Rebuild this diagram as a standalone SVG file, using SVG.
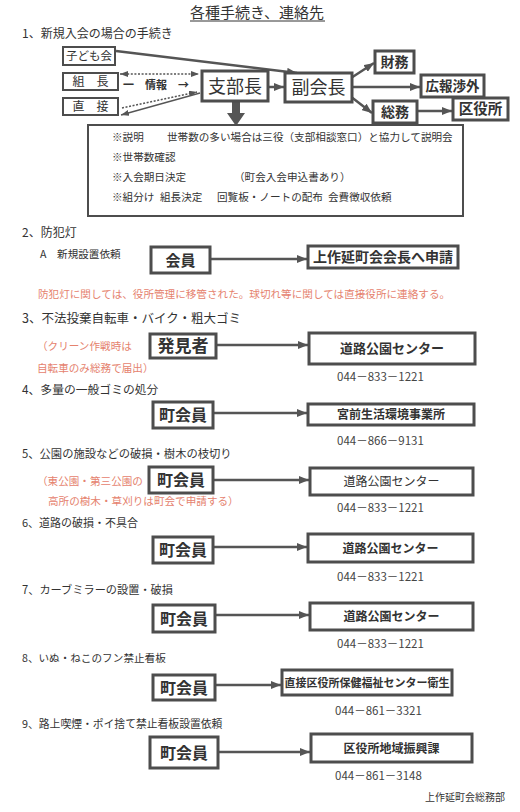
<svg xmlns="http://www.w3.org/2000/svg" width="520" height="812" viewBox="0 0 520 812">
<defs>
<style>
text{font-family:"Noto Sans CJK JP","Noto Sans",sans-serif;fill:#333}
.box{fill:#fff;stroke:#4d4d4d;stroke-width:3}
.tbox{fill:#fff;stroke:#4d4d4d;stroke-width:2}
.lb{text-anchor:middle;font-weight:700}
.ln{text-anchor:middle;font-weight:400}
.red{fill:#e5826e;font-size:10.6px}
.ph{font-size:11.5px;fill:#444}
.note{font-size:10.6px;fill:#333}
.c{stroke:#555;stroke-width:2.5;fill:none}
.d{stroke:#555;stroke-width:1.6;fill:none;stroke-dasharray:2 1.6}
.s{stroke:#555;stroke-width:1.3;fill:none}
</style>
<marker id="ah" markerUnits="userSpaceOnUse" markerWidth="10" markerHeight="8" refX="10" refY="4" orient="auto">
<path d="M0,0 L10,4 L0,8 z" fill="#555"/>
</marker>
<marker id="as" markerUnits="userSpaceOnUse" markerWidth="8" markerHeight="6" refX="8" refY="3" orient="auto-start-reverse">
<path d="M0,0 L8,3 L0,6 z" fill="#555"/>
</marker>
</defs>
<rect width="520" height="812" fill="#fff"/>

<g id="title">
<text x="257" y="18" font-size="15" text-anchor="middle">各種手続き、連絡先</text>
<line x1="190" y1="21" x2="325" y2="21" stroke="#333" stroke-width="1"/>
</g>

<g id="headings">
<text x="22" y="38" font-size="12">1、新規入会の場合の手続き</text>
<text x="22" y="237" font-size="12">2、防犯灯</text>
<text x="22" y="323" font-size="12.5">3、不法投棄自転車・バイク・粗大ゴミ</text>
<text x="22" y="394" font-size="11.8">4、多量の一般ゴミの処分</text>
<text x="22" y="458" font-size="11.3">5、公園の施設などの破損・樹木の枝切り</text>
<text x="22" y="527" font-size="11">6、道路の破損・不具合</text>
<text x="22" y="594" font-size="11.2">7、カーブミラーの設置・破損</text>
<text x="22" y="662" font-size="10.6">8、いぬ・ねこのフン禁止看板</text>
<text x="22" y="728" font-size="10.8">9、路上喫煙・ポイ捨て禁止看板設置依頼</text>
</g>

<g id="connectors">
<line class="c" x1="116" y1="51" x2="297" y2="73" stroke-width="2" marker-end="url(#ah)"/>
<line class="d" x1="120" y1="74" x2="199" y2="74" marker-start="url(#as)" marker-end="url(#as)"/>
<line class="d" x1="122" y1="108" x2="197" y2="92" marker-end="url(#as)"/>
<line class="s" x1="200" y1="93" x2="121" y2="115" marker-end="url(#as)"/>
<line class="c" x1="268" y1="87" x2="284" y2="87" marker-end="url(#ah)"/>
<path d="M232,101 L240,101 L240,113 L245,113 L236,126 L227,113 L232,113 z" fill="#555"/>
<line class="c" x1="351" y1="78" x2="374" y2="63" marker-end="url(#ah)"/>
<line class="c" x1="352" y1="87" x2="420" y2="87" marker-end="url(#ah)"/>
<line class="c" x1="350" y1="96" x2="372" y2="113" marker-end="url(#ah)"/>
<line class="c" x1="417" y1="111" x2="452" y2="111" marker-end="url(#ah)"/>
<line class="c" x1="210" y1="259" x2="307" y2="259" marker-end="url(#ah)"/>
<line class="c" x1="216" y1="345" x2="308" y2="345" marker-end="url(#ah)"/>
<line class="c" x1="213" y1="413" x2="307" y2="413" marker-end="url(#ah)"/>
<line class="c" x1="213" y1="480" x2="309" y2="480" marker-end="url(#ah)"/>
<line class="c" x1="213" y1="547" x2="307" y2="547" marker-end="url(#ah)"/>
<line class="c" x1="215" y1="615" x2="309" y2="615" marker-end="url(#ah)"/>
<line class="c" x1="215" y1="685" x2="281" y2="685" marker-end="url(#ah)"/>
<line class="c" x1="218" y1="752" x2="310" y2="752" marker-end="url(#ah)"/>
<text x="123" y="89" font-size="11" font-weight="700" fill="#444">一　情報　→</text>
</g>

<g id="kodomokai"><rect class="tbox" x="63" y="47" width="52" height="18"/><text class="ln" x="89" y="60" font-size="11.5">子ども会</text></g>
<g id="kumicho"><rect class="tbox" x="63" y="73" width="55" height="17"/><text class="ln" x="90.5" y="86" font-size="12">組　長</text></g>
<g id="chokusetsu"><rect class="tbox" x="63" y="98" width="55" height="17"/><text class="ln" x="90.5" y="111" font-size="12">直　接</text></g>
<g id="shibucho"><rect class="box" x="202" y="71" width="66" height="30"/><text class="ln" x="235" y="92.5" font-size="18">支部長</text></g>
<g id="fukukaicho"><rect class="box" x="285" y="73" width="67" height="29"/><text class="ln" x="318.5" y="94" font-size="18">副会長</text></g>
<g id="zaimu"><rect class="box" x="375" y="51" width="39" height="22"/><text class="lb" x="394.5" y="67" font-size="14">財務</text></g>
<g id="kohoshogai"><rect class="box" x="421" y="75" width="63" height="22"/><text class="lb" x="452.5" y="91" font-size="13.5">広報渉外</text></g>
<g id="somu"><rect class="box" x="373" y="101" width="44" height="22"/><text class="lb" x="395" y="117" font-size="14">総務</text></g>
<g id="kuyakusho"><rect class="box" x="453" y="98" width="55" height="22"/><text class="lb" x="480.5" y="114" font-size="14.5">区役所</text></g>

<g id="procedure">
<rect class="tbox" x="88" y="125" width="375" height="91"/>
<text class="note" x="112" y="141">※説明</text>
<text class="note" x="167" y="141">世帯数の多い場合は三役（支部相談窓口）と協力して説明会</text>
<text class="note" x="112" y="161">※世帯数確認</text>
<text class="note" x="112" y="181">※入会期日決定</text>
<text class="note" x="234" y="181">（町会入会申込書あり）</text>
<text class="note" x="112" y="201">※組分け</text>
<text class="note" x="160" y="201">組長決定</text>
<text class="note" x="217" y="201">回覧板・ノートの配布</text>
<text class="note" x="328" y="201">会費徴収依頼</text>
</g>

<g id="s2-label"><text x="40" y="258" font-size="10.6">A　新規設置依頼</text></g>
<g id="s2-kaiin"><rect class="box" x="151" y="247" width="59" height="26"/><text class="lb" x="180.5" y="265.5" font-size="15">会員</text></g>
<g id="s2-kaicho"><rect class="box" x="308" y="246" width="150" height="22"/><text class="lb" x="383" y="262" font-size="14">上作延町会会長へ申請</text></g>
<g id="s2-note"><text class="red" x="38" y="298" font-size="10.8">防犯灯に関しては、役所管理に移管された。球切れ等に関しては直接役所に連絡する。</text></g>

<g id="s3-note"><text class="red" x="37" y="350">（クリーン作戦時は</text><text class="red" x="37" y="372">自転車のみ総務で届出）</text></g>
<g id="s3-hakkensha"><rect class="box" x="150" y="334" width="66" height="24"/><text class="lb" x="183" y="352" font-size="17">発見者</text></g>
<g id="s3-center"><rect class="box" x="309" y="333" width="166" height="31"/><text class="lb" x="392" y="353" font-size="13">道路公園センター</text><text class="ph" x="337" y="381">044－833－1221</text></g>

<g id="s4-chokaiin"><rect class="box" x="153" y="402" width="60" height="26"/><text class="lb" x="183" y="421" font-size="16">町会員</text></g>
<g id="s4-center"><rect class="box" x="308" y="404" width="166" height="21"/><text class="lb" x="391" y="419" font-size="12">宮前生活環境事業所</text><text class="ph" x="337" y="445">044－866－9131</text></g>

<g id="s5-note"><text class="red" x="37" y="485">（東公園・第三公園の</text><text class="red" x="48" y="505">高所の樹木・草刈りは町会で申請する）</text></g>
<g id="s5-chokaiin"><rect class="box" x="149" y="467" width="64" height="26"/><text class="lb" x="181" y="486" font-size="16">町会員</text></g>
<g id="s5-center"><rect class="box" x="310" y="468" width="163" height="27"/><text class="ln" x="391.5" y="486" font-size="12" font-weight="500">道路公園センター</text><text class="ph" x="337" y="512">044－833－1221</text></g>

<g id="s6-chokaiin"><rect class="box" x="153" y="537" width="60" height="26"/><text class="lb" x="183" y="556" font-size="16">町会員</text></g>
<g id="s6-center"><rect class="box" x="308" y="534" width="165" height="28"/><text class="lb" x="390.5" y="552.5" font-size="12">道路公園センター</text><text class="ph" x="337" y="581">044－833－1221</text></g>

<g id="s7-chokaiin"><rect class="box" x="153" y="605" width="62" height="27"/><text class="lb" x="184" y="624.5" font-size="16">町会員</text></g>
<g id="s7-center"><rect class="box" x="310" y="603" width="163" height="27"/><text class="lb" x="391.5" y="621" font-size="12">道路公園センター</text><text class="ph" x="337" y="648">044－833－1221</text></g>

<g id="s8-chokaiin"><rect class="box" x="153" y="675" width="62" height="25"/><text class="lb" x="184" y="693.5" font-size="16">町会員</text></g>
<g id="s8-center"><rect class="box" x="282" y="670" width="170" height="25"/><text class="lb" x="367" y="686.5" font-size="11">直接区役所保健福祉センター衛生</text><text class="ph" x="335" y="715">044－861－3321</text></g>

<g id="s9-chokaiin"><rect class="box" x="150" y="737" width="68" height="31"/><text class="lb" x="184" y="758.5" font-size="16">町会員</text></g>
<g id="s9-center"><rect class="box" x="311" y="734" width="161" height="28"/><text class="lb" x="391.5" y="752.5" font-size="12">区役所地域振興課</text><text class="ph" x="335" y="780">044－861－3148</text></g>

<g id="footer"><text x="425" y="801" font-size="10">上作延町会総務部</text></g>
</svg>
